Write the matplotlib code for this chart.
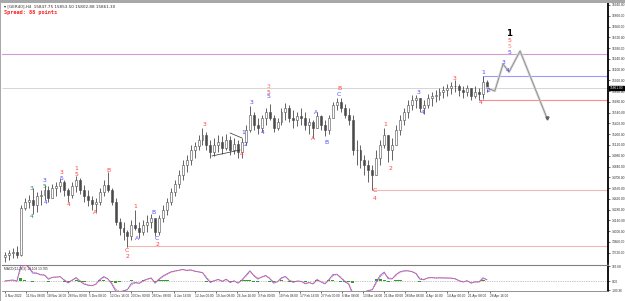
import matplotlib
matplotlib.use("Agg")
import matplotlib.pyplot as plt
import numpy as np
import pandas as pd
from matplotlib.patches import Rectangle
from matplotlib import font_manager

# ---------------- data (daily approximation of the H4 chart) ----------------
highs = [13729, 13755, 13781, 13807, 14340, 14431, 14470, 14561, 14509, 14535,
         14600, 14587, 14613, 14639, 14691, 14665, 14561, 14639, 14717, 14691,
         14600, 14535, 14457, 14431, 14561, 14665, 14769, 14561, 14431, 14171,
         14119, 14015, 14145, 14275, 14119, 14145, 14210, 14223, 14145, 14210,
         14340, 14431, 14561, 14665, 14795, 14925, 14990, 15120, 15159, 15250,
         15341, 15289, 15185, 15211, 15250, 15237, 15263, 15237, 15211, 15185,
         15211, 15380, 15627, 15549, 15471, 15510, 15601, 15653, 15510, 15471,
         15601, 15666, 15640, 15575, 15549, 15601, 15549, 15471, 15445, 15549,
         15510, 15445, 15510, 15679, 15731, 15731, 15653, 15601, 15510, 15185,
         15120, 14990, 14925, 14860, 15055, 15185, 15341, 15250, 15211, 15380,
         15510, 15601, 15705, 15770, 15770, 15731, 15705, 15783, 15809, 15835,
         15861, 15887, 15913, 15939, 15965, 15913, 15887, 15900, 15861, 15887,
         15861, 16017, 15965]
lows = [13599, 13625, 13651, 13651, 13677, 14275, 14301, 14223, 14249, 14340,
        14405, 14379, 14431, 14457, 14509, 14457, 14379, 14431, 14509, 14483,
        14379, 14327, 14275, 14249, 14340, 14457, 14509, 14340, 14080, 13950,
        13885, 13794, 13885, 14015, 13911, 13950, 13989, 14041, 13937, 13950,
        14119, 14210, 14340, 14457, 14561, 14665, 14769, 14860, 14951, 15055,
        15120, 15055, 14951, 14977, 15029, 15003, 15055, 14990, 15003, 14951,
        14951, 15120, 15289, 15315, 15263, 15289, 15380, 15445, 15289, 15315,
        15380, 15445, 15419, 15341, 15367, 15380, 15315, 15263, 15211, 15341,
        15315, 15237, 15263, 15471, 15575, 15549, 15471, 15380, 14990, 14860,
        14821, 14730, 14639, 14535, 14730, 14860, 15081, 14899, 14925, 15120,
        15250, 15380, 15471, 15575, 15601, 15549, 15523, 15601, 15627, 15679,
        15705, 15731, 15757, 15783, 15809, 15757, 15731, 15757, 15705, 15731,
        15705, 15731, 15809]
closes = [13690, 13716, 13729, 13690, 14301, 14379, 14405, 14340, 14457, 14470,
          14535, 14431, 14561, 14587, 14639, 14535, 14470, 14587, 14665, 14535,
          14457, 14405, 14353, 14379, 14509, 14600, 14535, 14379, 14119, 14041,
          13989, 13937, 14080, 14041, 13989, 14080, 14119, 14171, 13989, 14171,
          14275, 14379, 14509, 14613, 14730, 14860, 14925, 15055, 15107, 15185,
          15250, 15120, 15029, 15120, 15159, 15081, 15185, 15055, 15133, 15029,
          15159, 15315, 15510, 15380, 15341, 15471, 15549, 15471, 15341, 15419,
          15549, 15601, 15471, 15445, 15497, 15471, 15380, 15419, 15341, 15497,
          15380, 15315, 15471, 15640, 15679, 15601, 15510, 15445, 15055, 15055,
          14925, 14860, 14795, 14730, 14951, 15120, 15250, 15055, 15120, 15315,
          15445, 15549, 15640, 15705, 15731, 15601, 15640, 15731, 15757, 15770,
          15809, 15835, 15861, 15887, 15887, 15835, 15809, 15861, 15757, 15809,
          15783, 15939, 15861]
first_open = 13660

date_labels = ["4 Nov 2022", "11 Nov 08:00", "18 Nov 16:00", "28 Nov 00:00",
               "5 Dec 08:00", "12 Dec 16:00", "20 Dec 00:00", "28 Dec 08:00",
               "4 Jan 16:00", "12 Jan 00:00", "19 Jan 08:00", "26 Jan 16:00",
               "3 Feb 00:00", "10 Feb 08:00", "17 Feb 16:00", "27 Feb 00:00",
               "6 Mar 08:00", "13 Mar 16:00", "21 Mar 00:00", "28 Mar 08:00",
               "4 Apr 16:00", "14 Apr 00:00", "21 Apr 08:00", "28 Apr 16:00"]

price_ticks = list(range(13720, 16950, 140))

# projected wave path (day index, price)
proj_days = [122, 124.0, 126.1, 127.6, 130.4, 137.2]
proj_prices = [15861, 15822, 16173, 16069, 16342, 15471]

# horizontal levels: (price, start day, color)
levels = [(16303, -1, "#d59ad5"), (16017, 121, "#9a9aff"), (15705, 120, "#ff8a8a"),
          (14535, 93, "#f2b8b8"), (13807, 31, "#f2b8b8")]
bid_price = 15861

# Elliott wave labels: (text, color, day, price)
wave_labels = [
    ("3", "#2e8b57", 6.6, 14561), ("4", "#2e8b57", 6.8, 14184),
    ("3", "#4a4aff", 10.1, 14665), ("5", "#2e8b57", 10.1, 14587),
    ("4", "#4a4aff", 10.4, 14366),
    ("3", "#ff4040", 14.4, 14769), ("5", "#4a4aff", 14.4, 14691),
    ("4", "#ff4040", 16.0, 14353),
    ("1", "#ff4040", 18.0, 14821), ("5", "#ff4040", 18.0, 14730),
    ("A", "#ff4040", 22.8, 14236), ("B", "#ff4040", 26.1, 14795),
    ("C", "#ff4040", 30.9, 13755), ("2", "#ff4040", 30.9, 13664),
    ("1", "#ff4040", 32.9, 14314), ("A", "#4a4aff", 33.4, 13911),
    ("B", "#4a4aff", 37.5, 14249), ("C", "#4a4aff", 38.5, 13898),
    ("2", "#ff4040", 38.5, 13820),
    ("3", "#ff4040", 50.6, 15380), ("4", "#ff4040", 60.0, 15003),
    ("1", "#4a4aff", 60.3, 15289), ("2", "#4a4aff", 61.0, 15120),
    ("3", "#4a4aff", 62.3, 15666), ("4", "#4a4aff", 65.1, 15289),
    ("3", "#f08060", 66.8, 15874), ("5", "#ff4040", 66.8, 15796),
    ("5", "#4a4aff", 66.8, 15744),
    ("A", "#ff4040", 78.0, 15198), ("A", "#4a4aff", 78.7, 15549),
    ("B", "#4a4aff", 81.5, 15159),
    ("B", "#ff4040", 84.6, 15848), ("C", "#4a4aff", 84.6, 15770),
    ("C", "#ff4040", 93.7, 14522), ("4", "#ff4040", 93.7, 14431),
    ("1", "#ff4040", 96.2, 15380), ("2", "#ff4040", 97.5, 14821),
    ("3", "#4a4aff", 104.6, 15796), ("4", "#4a4aff", 105.8, 15536),
    ("3", "#ff4040", 113.9, 15991), ("4", "#ff4040", 120.5, 15679),
    ("1", "#4a4aff", 121.0, 16069), ("2", "#4a4aff", 122.5, 15835),
    ("3", "#4a4aff", 126.1, 16186), ("4", "#4a4aff", 127.3, 16082),
    ("5", "#ff4040", 127.6, 16472), ("5", "#ff8080", 127.6, 16407),
    ("5", "#4a4aff", 127.6, 16329),
]
big_label = ("1", 127.6, 16563)

# triangle lines: (day0, price0, day1, price1)
triangle = [(52.4, 14977, 59.5, 15055), (57.0, 15276, 60.0, 15211)]

# ---------------- fonts ----------------
names = {f.name for f in font_manager.fontManager.ttflist}
small_family = ["Liberation Sans Narrow"] if "Liberation Sans Narrow" in names else ["Liberation Sans"]
small_size = 2.7 if "Liberation Sans Narrow" in names else 2.3

# ---------------- figure ----------------
W, H = 625, 301
fig = plt.figure(figsize=(W / 100, H / 100), dpi=100)
fig.patch.set_facecolor("white")


def rect(x0, y0, x1, y1):
    return [x0 / W, 1 - y1 / H, (x1 - x0) / W, (y1 - y0) / H]


ax = fig.add_axes(rect(2, 3, 608, 263))
axm = fig.add_axes(rect(2, 265, 608, 291))

xmin, xmax = -0.76, 152.66
days = np.arange(len(closes))
opens = np.array([first_open] + closes[:-1])
closes_a = np.array(closes)

# candles
ax.vlines(days, lows, highs, color="#4a4a4a", lw=0.6, zorder=3)
up = closes_a >= opens
bottoms = np.minimum(opens, closes_a)
heights = np.maximum(np.abs(closes_a - opens), 3)
ax.bar(days[up], heights[up], bottom=bottoms[up], width=0.5, color="white",
       edgecolor="#4a4a4a", lw=0.4, zorder=4)
ax.bar(days[~up], heights[~up], bottom=bottoms[~up], width=0.5, color="#4a4a4a",
       edgecolor="#4a4a4a", lw=0.4, zorder=4)

# levels
for p, d0, col in levels:
    ax.hlines(p, d0, xmax, color=col, lw=0.8, zorder=2)
ax.vlines(121, 15705, 16017, color="#9a9aff", lw=0.6, zorder=2)
ax.hlines(bid_price, xmin, xmax, color="#cfcfcf", lw=0.6, zorder=1)

# triangle
for d0, p0, d1, p1 in triangle:
    ax.plot([d0, d1], [p0, p1], color="#303030", lw=0.5, zorder=5)

# projection path
ax.plot(proj_days, proj_prices, color="#d8d8d8", lw=1.8, zorder=5,
        solid_capstyle="round")
ax.plot(proj_days, proj_prices, color="#8a8a8a", lw=0.6, zorder=6)
ax.plot(proj_days[-1], proj_prices[-1], marker="v", ms=2.2, color="#606060", zorder=7)

# wave labels
for t, c, d, p in wave_labels:
    ax.text(d, p, t, color=c, fontsize=4.4, ha="center", va="center", zorder=8)
ax.text(big_label[1], big_label[2], big_label[0], color="black", fontsize=6.2,
        fontweight="bold", ha="center", va="center", zorder=8)

ax.set_xlim(xmin, xmax)
ax.set_ylim(13586, 16966)
for s in ["left", "top", "bottom"]:
    ax.spines[s].set_visible(False)
ax.spines["right"].set_color("black")
ax.spines["right"].set_linewidth(1.3)
ax.set_xticks([])
ax.yaxis.tick_right()
ax.set_yticks(price_ticks)
ax.set_yticklabels([f"{v:.2f}" for v in price_ticks], family=small_family)
ax.tick_params(axis="y", labelsize=small_size, length=1.5, width=0.5, pad=1,
               colors="#303030")
ax.text(1.003, bid_price, f"{bid_price:.2f}", transform=ax.get_yaxis_transform(),
        fontsize=small_size, family=small_family, color="white", ha="left",
        va="center", zorder=10,
        bbox=dict(boxstyle="square,pad=0.15", fc="black", ec="black"),
        clip_on=False)

# header texts
fig.text(4 / W, 1 - 6 / H, "\u25be [GER40],H4  15847.75 15853.50 15802.88 15861.30",
         fontsize=3, color="#303030", va="center", ha="left")
fig.text(4 / W, 1 - 12.5 / H, "Spread: 88 points", fontsize=3.8, color="#ff2020",
         fontweight="bold", family="DejaVu Sans Mono", va="center", ha="left")

# figure borders
fig.add_artist(Rectangle((0, 1 - 2.5 / H), 1, 2.5 / H, transform=fig.transFigure,
                         color="#a8a8a8", lw=0))
fig.add_artist(Rectangle((0, 0), 1.5 / W, 1, transform=fig.transFigure,
                         color="#a8a8a8", lw=0))

# ---------------- MACD panel ----------------
c = pd.Series(closes, dtype=float)
macd = c.ewm(span=2, adjust=False).mean() - c.ewm(span=26 / 6, adjust=False).mean()
signal = macd.ewm(span=1.5, adjust=False).mean()
hist = macd - signal

axm.bar(days, hist, width=0.8, color="#2e9e2e", zorder=2)
axm.plot(days, macd, color="#6a6aff", lw=0.6, zorder=3)
axm.plot(days, signal, color="#ff5a5a", lw=0.6, ls=(0, (1.5, 0.8)), zorder=3)
axm.axhline(0, color="#909090", lw=0.5, ls=(0, (1, 1.5)), zorder=1)
M = float(np.abs(macd).max()) * 1.05
top, bot = M * 0.9, -M * 0.56
axm.set_ylim(bot, top)
axm.set_xlim(xmin, xmax)
axm.yaxis.tick_right()
axm.set_yticks([top * 0.93, 0, bot * 0.9])
axm.set_yticklabels([f"{top * 0.93:.2f}", "0.00", f"{bot * 0.9:.2f}"],
                    family=small_family)
axm.tick_params(axis="y", labelsize=small_size, length=1.5, width=0.5, pad=1,
                colors="#303030")
tick_pos = [i * 32 / 6 for i in range(len(date_labels))]
axm.set_xticks(tick_pos)
axm.set_xticklabels(date_labels, ha="left", family=small_family)
axm.tick_params(axis="x", labelsize=small_size, length=1.5, width=0.5, pad=1,
                colors="#303030")
axm.spines["left"].set_visible(False)
axm.spines["top"].set_color("#808080")
axm.spines["top"].set_linewidth(0.8)
axm.spines["bottom"].set_color("#808080")
axm.spines["bottom"].set_linewidth(0.6)
axm.spines["right"].set_color("black")
axm.spines["right"].set_linewidth(1.3)
axm.text(0.003, 0.92, "MACD(12,26,9) 13.103 13.705", transform=axm.transAxes,
         fontsize=small_size, family=small_family, color="#303030", va="top",
         ha="left")

fig.savefig("out.png", dpi=100, facecolor="white")
